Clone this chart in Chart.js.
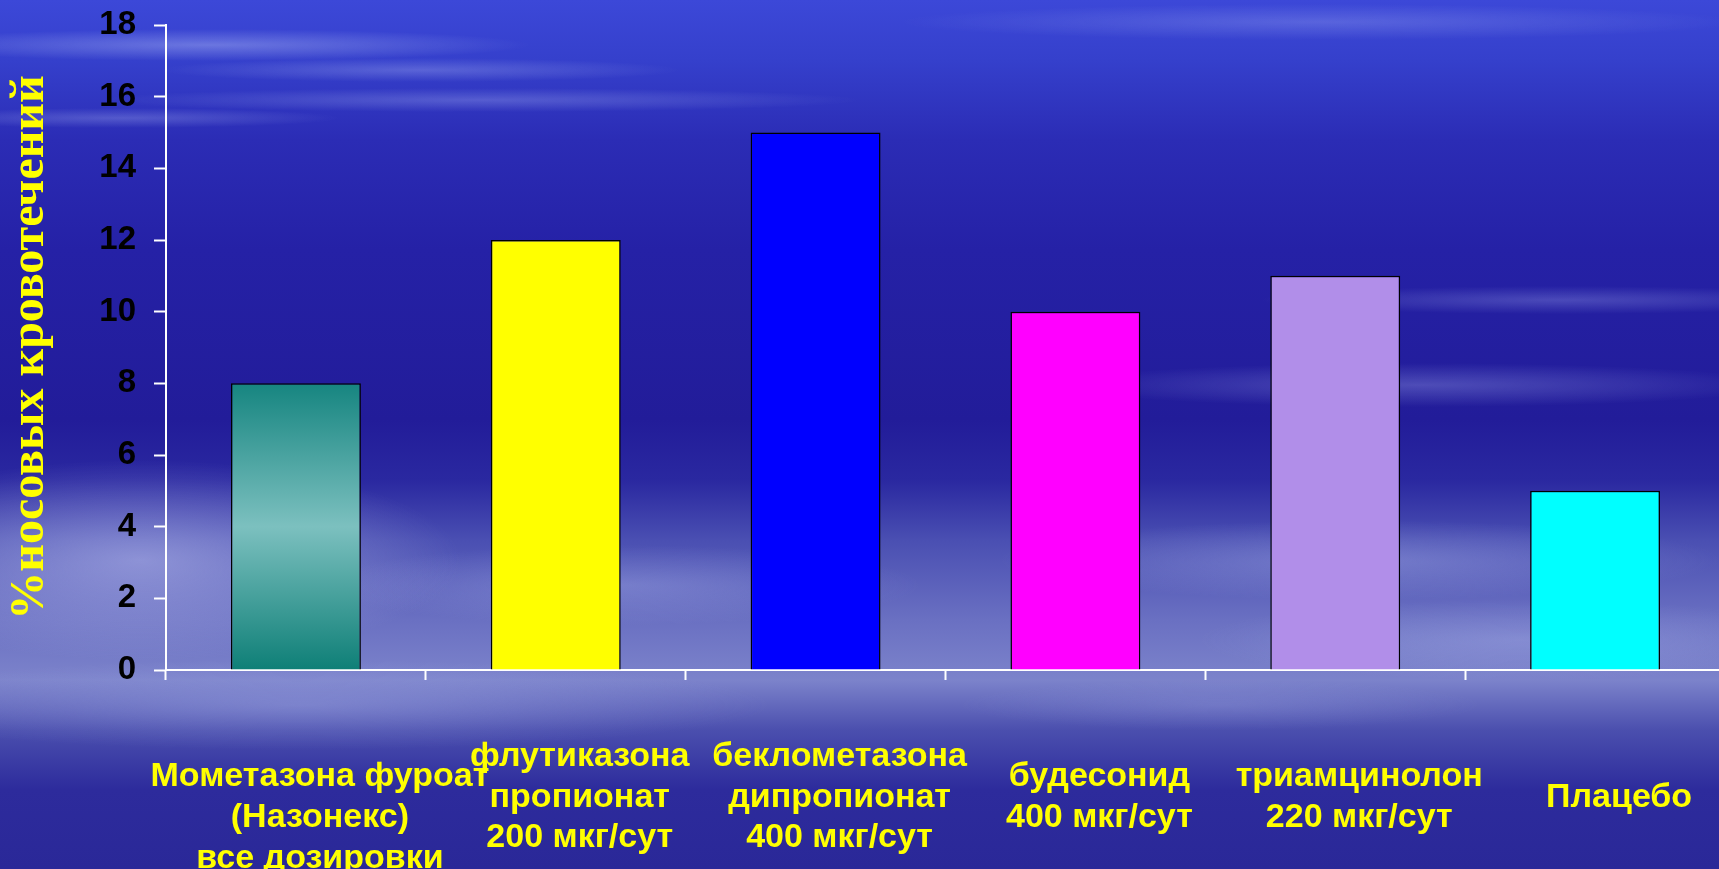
<!DOCTYPE html>
<html lang="ru">
<head>
<meta charset="utf-8">
<title>Носовые кровотечения</title>
<script src="https://cdn.jsdelivr.net/npm/chart.js@4.4.1/dist/chart.umd.min.js"></script>
<style>
  html, body { margin: 0; padding: 0; width: 1719px; height: 869px; overflow: hidden; }
  body {
    background:
      radial-gradient(ellipse 320px 16px at 210px 45px, rgba(205,215,255,.35), transparent),
      radial-gradient(ellipse 260px 12px at 420px 70px, rgba(205,215,255,.25), transparent),
      radial-gradient(ellipse 380px 12px at 480px 100px, rgba(200,210,255,.25), transparent),
      radial-gradient(ellipse 220px 10px at 120px 118px, rgba(200,210,255,.25), transparent),
      radial-gradient(ellipse 420px 18px at 1320px 22px, rgba(200,210,255,.22), transparent),
      radial-gradient(ellipse 300px 14px at 1560px 300px, rgba(190,200,255,.25), transparent),
      radial-gradient(ellipse 360px 22px at 1420px 385px, rgba(190,200,255,.28), transparent),
      radial-gradient(ellipse 320px 100px at 140px 560px, rgba(190,195,240,.55), transparent),
      radial-gradient(ellipse 300px 40px at 620px 585px, rgba(180,190,240,.30), transparent),
      radial-gradient(ellipse 360px 40px at 1360px 560px, rgba(180,190,240,.35), transparent),
      radial-gradient(ellipse 320px 40px at 1520px 640px, rgba(180,190,240,.30), transparent),
      radial-gradient(ellipse 470px 45px at 300px 705px, rgba(170,180,235,.35), transparent),
      radial-gradient(ellipse 260px 25px at 1220px 705px, rgba(170,180,235,.20), transparent),
      linear-gradient(to bottom, #3c48d8 0px, #3540cc 60px, #2b2cb5 140px, #2521a6 250px,
        #221c99 420px, #2a28a0 480px, #4a4fb2 540px, #6a70c2 620px, #7c83cb 680px,
        #4b4fae 730px, #2d2b9c 790px, #2a2898 869px);
  }
  #chart { position: absolute; left: 0; top: 0; }
</style>
</head>
<body>
<canvas id="chart" width="1725" height="869"></canvas>
<script>
// данные со слайда
const categories = [
  ["", "Мометазона фуроат", "(Назонекс)", "все дозировки"],
  ["флутиказона", "пропионат", "200 мкг/сут"],
  ["беклометазона", "дипропионат", "400 мкг/сут"],
  ["будесонид", "400 мкг/сут"],
  ["триамцинолон", "220 мкг/сут"],
  ["Плацебо"]
];
const values = [8, 12, 15, 10, 11, 5];
const yTicks = [0, 2, 4, 6, 8, 10, 12, 14, 16, 18];
const axisTitle = "%носовых кровотечений";

const barColors = ["teal", "#FFFF00", "#0000FF", "#FF00FF", "#B18EE9", "#00FFFF"];

function barFill(ctx) {
  const c = barColors[ctx.dataIndex];
  if (c !== "teal") return c;
  const chart = ctx.chart;
  if (!chart.chartArea) return "#1a8480";
  const y = chart.scales.y;
  const top = y.getPixelForValue(values[ctx.dataIndex]);
  const bottom = y.getPixelForValue(0);
  const g = chart.ctx.createLinearGradient(0, top, 0, bottom);
  g.addColorStop(0, "#168580");
  g.addColorStop(0.5, "#7cc0bf");
  g.addColorStop(1, "#0e7f77");
  return g;
}

const sans = "'Liberation Sans', Arial, sans-serif";

new Chart(document.getElementById("chart").getContext("2d"), {
  type: "bar",
  data: {
    labels: categories,
    datasets: [{
      data: values,
      backgroundColor: barFill,
      borderColor: "#000",
      borderWidth: 1.5,
      barPercentage: 0.5,
      categoryPercentage: 1
    }]
  },
  options: {
    responsive: false,
    animation: false,
    devicePixelRatio: 1,
    layout: { padding: { top: 25, right: 0, left: 0, bottom: 0 } },
    plugins: { legend: { display: false }, tooltip: { enabled: false } },
    scales: {
      x: {
        offset: true,
        grid: { drawOnChartArea: false, color: "#fff", tickLength: 10, tickWidth: 2, offset: true },
        border: { color: "#fff", width: 2 },
        ticks: {
          color: "#FFFF00",
          font: { family: sans, size: 34, weight: "bold", lineHeight: 1.2 },
          padding: 56,
          maxRotation: 0,
          autoSkip: false,
          crossAlign: "center",
          labelOffset: 24
        },
        afterFit(scale) {
          scale.height = 199;
          scale.paddingLeft = 0;
          scale.paddingRight = 0;
        }
      },
      y: {
        min: 0,
        max: 18,
        afterBuildTicks(scale) { scale.ticks = yTicks.map(v => ({ value: v })); },
        grid: { drawOnChartArea: false, color: "#fff", tickLength: 12, tickWidth: 2 },
        border: { color: "#fff", width: 2 },
        ticks: {
          color: "#000",
          font: { family: sans, size: 33, weight: "bold" },
          padding: 18
        },
        title: {
          display: true,
          text: axisTitle,
          color: "#FFFF00",
          font: { family: "'Liberation Serif', 'Times New Roman', serif", size: 48, weight: "bold" },
          padding: { top: 2, bottom: 0 }
        },
        afterFit(scale) {
          scale.width = 166;
          scale.paddingTop = 0;
          scale.paddingBottom = 0;
        }
      }
    }
  }
});
</script>
</body>
</html>
